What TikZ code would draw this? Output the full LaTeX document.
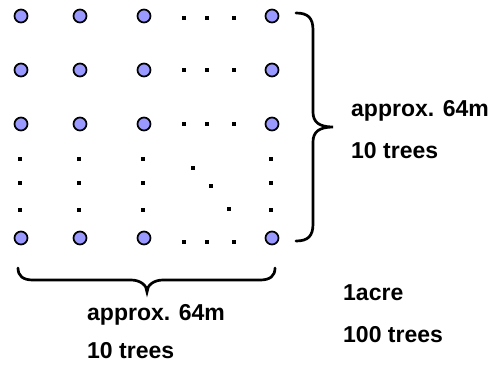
\documentclass[tikz,border=0pt]{standalone}
\usepackage{fontspec}
\setmainfont{Liberation Sans}
\begin{document}
\begin{tikzpicture}[x=1pt,y=-1pt,
  tree/.style={circle,draw=black,line width=1.7pt,fill=treefill,minimum size=13pt,inner sep=0pt},
  gap/.style={fill=black,minimum size=3.2pt,inner sep=0pt,rectangle},
  brace/.style={line width=2.7pt,line cap=round},
  lbl/.style={anchor=base west,inner sep=0pt,font=\fontsize{23}{27}\selectfont\bfseries}]
\definecolor{treefill}{HTML}{9999FF}
\useasboundingbox (0,0) rectangle (493,365);

% rows of trees
\foreach \y/\r in {16/1,70/2,124/3,238/4}{
  \foreach \x/\c in {21/1,80/2,144/3,272/4}{
    \node[tree] (t\r\c) at (\x,\y) {};
  }
}
% omitted trees along the rows
\foreach \y/\r in {18/1,70/2,124/3,242/4}{
  \foreach \x/\k in {184/1,207/2,234/3}{
    \node[gap] (h\r\k) at (\x,\y) {};
  }
}
% omitted trees down the columns
\foreach \x/\c in {20/1,79/2,143/3,271/4}{
  \foreach \y/\k in {159/1,183/2,210/3}{
    \node[gap] (v\c\k) at (\x,\y) {};
  }
}
% omitted trees on the diagonal
\node[gap] (d1) at (193,168) {};
\node[gap] (d2) at (211,186) {};
\node[gap] (d3) at (229,209) {};

% right brace
\draw[brace] (296,13) .. controls (308,13) and (313,18) .. (313,30)
  -- (313,112) .. controls (313,122) and (319,127) .. (333,127)
  .. controls (319,127) and (313,132) .. (313,142)
  -- (313,224) .. controls (313,236) and (308,241) .. (296,241);
% bottom brace
\draw[brace] (18,268) .. controls (18,276) and (23,280) .. (33,280)
  -- (131,280) .. controls (140,280) and (147,285) .. (147,292)
  .. controls (147,285) and (154,280) .. (163,280)
  -- (260,280) .. controls (270,280) and (275,276) .. (275,268);

\node[lbl] (rlen) at (351,116) {approx. 64m};
\node[lbl] (rcnt) at (351,158) {10 trees};
\node[lbl] (blen) at (87,320) {approx. 64m};
\node[lbl] (bcnt) at (87,358) {10 trees};
\node[lbl] (area) at (343,300) {1acre};
\node[lbl] (tot) at (343,342) {100 trees};
\end{tikzpicture}
\end{document}
